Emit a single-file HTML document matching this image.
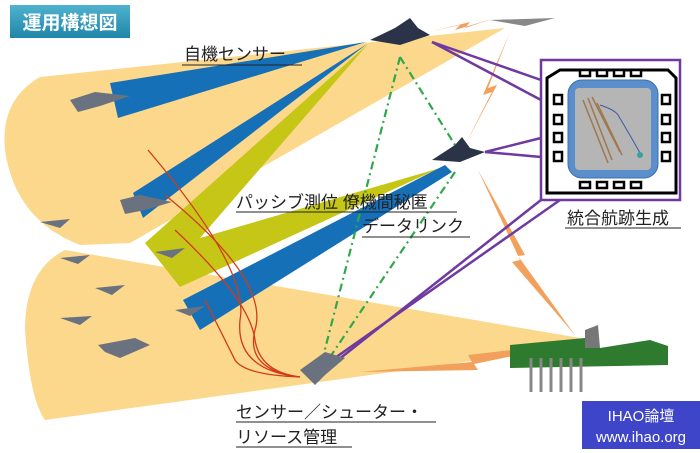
<!DOCTYPE html>
<html><head><meta charset="utf-8"><style>
html,body{margin:0;padding:0;background:#fff;}
svg{display:block}
text{font-family:"Liberation Sans","Noto Sans CJK JP",sans-serif;}
</style></head><body>
<svg width="700" height="453" viewBox="0 0 700 453" xmlns="http://www.w3.org/2000/svg">
<defs>
<linearGradient id="tg" x1="0" y1="0" x2="0" y2="1"><stop offset="0" stop-color="#4fb3cf"/><stop offset="1" stop-color="#1f86a8"/></linearGradient>
</defs>
<!-- yellow fans -->
<path d="M505,28 L40,77 Q0,100 5,150 Q15,220 80,245 L130,243 Z" fill="#fcd88c"/>
<path d="M580,338 L65,250 Q25,270 25,330 Q30,400 45,420 L580,346 Z" fill="#fcd88c"/>
<!-- yellow-green -->
<path d="M368,44 L145,243 L180,287 L440,168 L200,238 Z" fill="#c6c617"/>
<!-- blue beams -->
<path d="M366,42 L110,83 L118,118 Z" fill="#1670b8"/>
<path d="M367,44 L133,193 L143,218 Z" fill="#1670b8"/>
<path d="M445,165 L183,300 L200,330 L452,172 Z" fill="#1670b8"/>
<!-- orange bolts -->
<g fill="#f2a05c">
<path d="M430,32 L470,22 L465,28 L495,18 L455,30 L460,25 Z"/>
<path d="M510,32 L483,95 L492,92 L465,145 L497,85 L488,88 Z"/>
<path d="M478,170 L525,255 L518,256 L575,335 L512,262 L520,260 Z"/>
<path d="M580,342 L468,355 L472,362 L360,372 L478,370 L474,364 Z"/>
</g>
<!-- red curves -->
<g fill="none" stroke="#d23a1a" stroke-width="1.3">
<path d="M148,150 Q250,270 240,320 Q235,370 300,377"/>
<path d="M165,195 Q270,280 255,330 Q245,370 300,377"/>
<path d="M175,230 Q250,300 255,340 Q260,372 300,377"/>
<path d="M205,300 Q225,340 235,360 Q245,375 300,377"/>
</g>
<!-- green dash-dot -->
<g fill="none" stroke="#2ea84a" stroke-width="2.2" stroke-dasharray="8,4,2,4">
<path d="M400,57 L323,357"/>
<path d="M400,57 L455,145"/>
<path d="M455,172 L328,360"/>
</g>
<!-- purple -->
<g fill="none" stroke="#6f3aa0" stroke-width="2.5">
<path d="M432,42 L541,80"/><path d="M432,42 L541,100"/>
<path d="M485,152 L541,138"/><path d="M485,152 L541,157"/>
<path d="M338,360 L541,200"/><path d="M332,360 L560,200"/>
<path d="M541,60 L680,60 L680,200 L541,200 Z"/>
</g>
<!-- display box -->
<path d="M560,70 L668,70 L676,78 L676,193 L547,193 L547,78 Z" fill="#fff" stroke="#000" stroke-width="3"/>
<g fill="#fff" stroke="#000" stroke-width="2.5">
<rect x="580" y="70" width="10" height="6"/><rect x="597" y="70" width="10" height="6"/><rect x="614" y="70" width="10" height="6"/><rect x="631" y="70" width="10" height="6"/>
<rect x="580" y="182" width="10" height="6"/><rect x="597" y="182" width="10" height="6"/><rect x="614" y="182" width="10" height="6"/><rect x="631" y="182" width="10" height="6"/>
<rect x="554" y="95" width="8" height="9"/><rect x="554" y="115" width="8" height="9"/><rect x="554" y="133" width="8" height="9"/><rect x="554" y="152" width="8" height="9"/>
<rect x="662" y="95" width="8" height="9"/><rect x="662" y="115" width="8" height="9"/><rect x="662" y="133" width="8" height="9"/><rect x="662" y="152" width="8" height="9"/>
</g>
<rect x="568" y="80" width="90" height="98" rx="14" fill="#5b8fcb" stroke="#3d6fae"/>
<rect x="575" y="88" width="76" height="82" rx="4" fill="#b5b5b5"/>
<g stroke="#a0784a" stroke-width="1.5" fill="none">
<path d="M583,100 L608,163"/><path d="M588,98 L612,160"/><path d="M592,97 L620,152"/><path d="M597,103 L622,155"/>
</g>
<path d="M600,105 Q615,110 618,115 Q630,135 640,153" stroke="#3c5aa0" fill="none"/>
<circle cx="640" cy="155" r="3" fill="#3aa0a0"/>
<!-- planes -->
<g fill="#6a7280">
<path d="M70,100 L95,92 L130,96 L100,106 L78,112 Z"/>
<path d="M120,200 L140,195 L172,202 L145,210 L125,214 Z"/>
<path d="M40,222 L70,219 L60,228 Z"/><path d="M60,258 L90,255 L78,264 Z"/>
<path d="M95,288 L125,285 L112,295 Z"/><path d="M60,318 L92,316 L80,325 Z"/>
<path d="M155,252 L185,248 L172,258 Z"/><path d="M175,310 L205,306 L190,316 Z"/>
<path d="M98,345 L135,338 L150,345 L120,358 L105,352 Z"/>
<path d="M300,370 L325,352 L345,358 L325,375 L315,385 Z"/>
<path d="M490,20 L555,18 L525,26 Z" fill="#888"/>
</g>
<g fill="#2a3348">
<path d="M370,40 L395,28 L410,18 L418,28 L430,35 L400,45 Z"/>
<path d="M432,160 L455,145 L462,137 L470,148 L485,152 L460,162 Z"/>
</g>
<!-- ground station -->
<path d="M510,345 L585,338 L600,348 L650,340 L668,346 L668,365 L510,368 Z" fill="#2e7a2e"/>
<path d="M585,330 L598,325 L600,348 L585,348 Z" fill="#777"/>
<g stroke="#888" stroke-width="3"><path d="M531,358 V392"/><path d="M541,358 V392"/><path d="M551,358 V392"/><path d="M561,358 V392"/><path d="M571,358 V392"/><path d="M581,358 V392"/></g>
<!-- title -->
<rect x="10" y="5" width="120" height="33" fill="url(#tg)"/>
<text x="70" y="29" font-size="19" font-weight="bold" fill="#fff" text-anchor="middle">運用構想図</text>
<!-- labels -->
<g font-size="17" fill="#222">
<text x="184" y="60">自機センサー</text>
<text x="236" y="208">パッシブ測位 僚機間秘匿</text>
<text x="362" y="232">データリンク</text>
<text x="567" y="224">統合航跡生成</text>
<text x="236" y="418">センサー／シューター・</text>
<text x="236" y="443">リソース管理</text>
</g>
<g stroke="#222" stroke-width="1">
<path d="M182,65 H302"/><path d="M236,212 H457"/><path d="M362,237 H470"/><path d="M565,228 H681"/><path d="M236,422 H436"/><path d="M236,447 H352"/>
</g>
<!-- watermark -->
<rect x="582" y="401" width="118" height="48" fill="#3f45c8"/>
<text x="641" y="421" font-size="15" fill="#fff" text-anchor="middle">IHAO論壇</text>
<text x="641" y="442" font-size="15" fill="#fff" text-anchor="middle">www.ihao.org</text>
</svg>
</body></html>
